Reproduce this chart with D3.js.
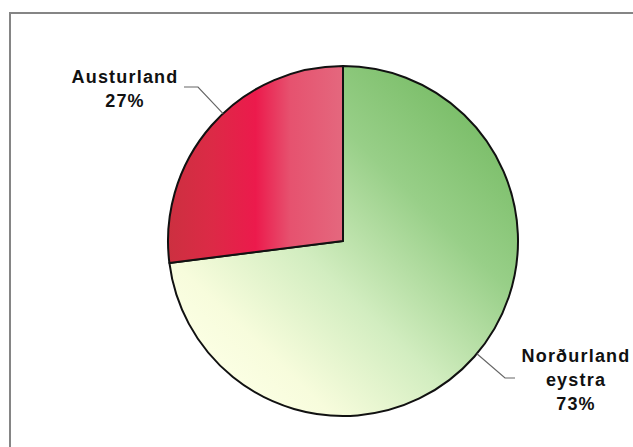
<!DOCTYPE html>
<html>
<head>
<meta charset="utf-8">
<script src="https://cdn.jsdelivr.net/npm/d3@7/dist/d3.min.js"></script>
<style>
html,body{margin:0;padding:0;background:#fff;}
svg{display:block;}
</style>
</head>
<body>
<svg id="chart" width="633" height="447"></svg>
<script>
const categories = ["Norðurland eystra", "Austurland"];
const values = [73, 27];
const labelLines = [["Norðurland", "eystra", "73%"], ["Austurland", "27%"]];

const W = 633, H = 447;
const cx = 343, cy = 241, R = 175;
const svg = d3.select("#chart");
const defs = svg.append("defs");

// frame
svg.append("rect").attr("x", 10).attr("y", 13).attr("width", W).attr("height", H)
  .attr("fill", "none").attr("stroke", "#858585").attr("stroke-width", 2);

// gradients (coordinates local to pie group, centred on 0,0)
const gG = defs.append("linearGradient").attr("id", "gGreen")
  .attr("gradientUnits", "userSpaceOnUse")
  .attr("x1", 150).attr("y1", -130).attr("x2", -120).attr("y2", 150);
gG.append("stop").attr("offset", "0%").attr("stop-color", "#76bb64");
gG.append("stop").attr("offset", "30%").attr("stop-color", "#98cf88");
gG.append("stop").attr("offset", "60%").attr("stop-color", "#d2edc0");
gG.append("stop").attr("offset", "85%").attr("stop-color", "#f7fcdc");
gG.append("stop").attr("offset", "100%").attr("stop-color", "#fdffe6");

const gR = defs.append("linearGradient").attr("id", "gRed")
  .attr("gradientUnits", "userSpaceOnUse")
  .attr("x1", -R).attr("y1", 0).attr("x2", 0).attr("y2", 0);
gR.append("stop").attr("offset", "0%").attr("stop-color", "#cc3040");
gR.append("stop").attr("offset", "25%").attr("stop-color", "#dc2a46");
gR.append("stop").attr("offset", "50%").attr("stop-color", "#ec1a4c");
gR.append("stop").attr("offset", "70%").attr("stop-color", "#e6526f");
gR.append("stop").attr("offset", "100%").attr("stop-color", "#e4687e");

const fills = ["url(#gGreen)", "url(#gRed)"];

const pie = d3.pie().sort(null).value(d => d);
const arcs = pie(values);
const arc = d3.arc().innerRadius(0).outerRadius(R);

const g = svg.append("g").attr("transform", `translate(${cx},${cy})`);
g.selectAll("path").data(arcs).enter().append("path")
  .attr("d", arc)
  .attr("fill", (d, i) => fills[i])
  .attr("stroke", "#111")
  .attr("stroke-width", 2)
  .attr("stroke-linejoin", "round");

// leader lines and labels
const labelPos = [
  {elbow: [505, 378], end: [515, 378], tx: 576, ty: 362},
  {elbow: [198, 87], end: [184, 87], tx: 125, ty: 83}
];
const pointOnArc = (d, t) => {
  const a = d.startAngle + (d.endAngle - d.startAngle) * t;
  return [cx + R * Math.sin(a), cy - R * Math.cos(a)];
};
arcs.forEach((d, i) => {
  const p = labelPos[i];
  let best = null, bd = Infinity;
  for (let t = 0; t <= 1; t += 0.005) {
    const q = pointOnArc(d, t);
    const dd = Math.hypot(q[0] - p.elbow[0], q[1] - p.elbow[1]);
    if (dd < bd) { bd = dd; best = q; }
  }
  svg.append("polyline")
    .attr("points", [best, p.elbow, p.end].map(q => q.join(",")).join(" "))
    .attr("fill", "none").attr("stroke", "#666").attr("stroke-width", 1.2);
  const t = svg.append("text")
    .attr("x", p.tx).attr("y", p.ty)
    .attr("text-anchor", "middle")
    .attr("font-family", "'Liberation Sans', Arial, sans-serif")
    .attr("font-weight", "bold")
    .attr("font-size", 18)
    .attr("letter-spacing", 1.2)
    .attr("fill", "#111");
  labelLines[i].forEach((line, k) => {
    t.append("tspan").attr("x", p.tx).attr("dy", k === 0 ? 0 : 24).text(line);
  });
});
</script>
</body>
</html>
